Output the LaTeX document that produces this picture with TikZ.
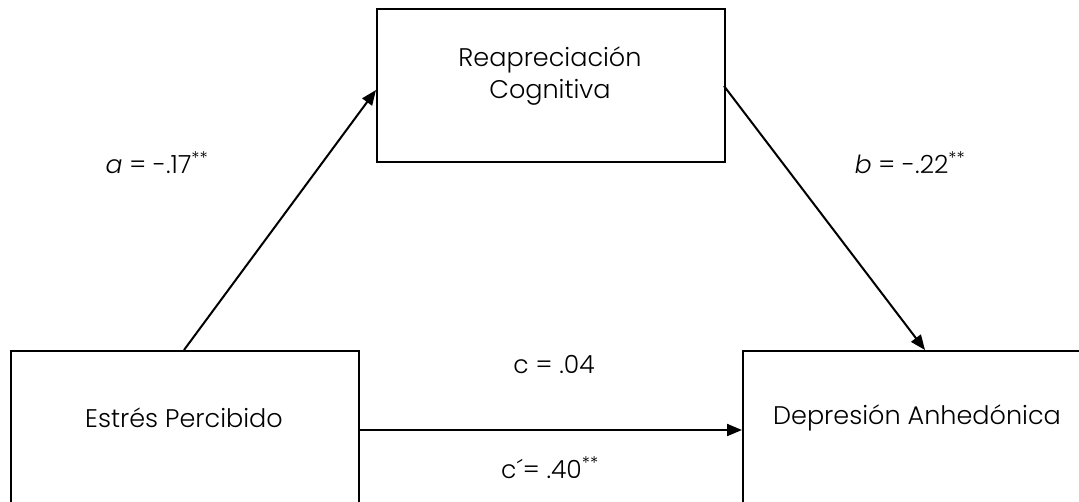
\documentclass[tikz,border=0pt]{standalone}
\usepackage{fontspec}
\setmainfont{Poppins}[UprightFont=* Light, ItalicFont=* Light Italic]
\usetikzlibrary{arrows.meta}
\tikzset{
  x=1pt, y=-1pt,
  box/.style={draw, line width=2pt, rectangle, inner sep=0pt, anchor=north west},
  link/.style={line width=2pt, -{Triangle[length=15pt,width=12pt]}},
  lbl/.style={font=\fontsize{25.5}{32}\selectfont, align=center, inner sep=0pt},
  coef/.style={font=\fontsize{25}{30}\selectfont, inner sep=0pt},
}
\begin{document}
\begin{tikzpicture}
  \useasboundingbox (0,0) rectangle (1079,501);
  \clip (0,0) rectangle (1079,501);
  \fill[white] (0,0) rectangle (1079,501);

  % boxes
  \node[box, minimum width=348pt, minimum height=153pt] (rc) at (376,8) {};
  \node[box, minimum width=348pt, minimum height=180pt] (ep) at (10,350) {};
  \node[box, minimum width=360pt, minimum height=180pt] (da) at (742,350) {};

  % box texts
  \node[lbl] (rct) at (550,76) {Reapreciación\\Cognitiva};
  \node[lbl] (ept) at (184,418) {Estrés Percibido};
  \node[lbl] (dat) at (917,418) {Depresión Anhedónica};

  % connector end points
  \coordinate (epTop) at (184,350);
  \coordinate (rcIn) at (376,90);
  \coordinate (rcOut) at (724,86);
  \coordinate (daTop) at (925,350);
  \coordinate (epOut) at (358,430);
  \coordinate (daIn) at (742,430);

  \draw[link] (epTop) -- (rcIn);
  \draw[link] (rcOut) -- (daTop);
  \draw[link] (epOut) -- (daIn);

  % path coefficients
  \node[coef] (ca) at (157,163) {\textit{a} = -.17\textsuperscript{**}};
  \node[coef] (cb) at (910,163) {\textit{b} = -.22\textsuperscript{**}};
  \node[coef] (cc) at (554,365) {c = .04};
  \node[coef] (ccp) at (550,468) {c´= .40\textsuperscript{**}};
\end{tikzpicture}
\end{document}
